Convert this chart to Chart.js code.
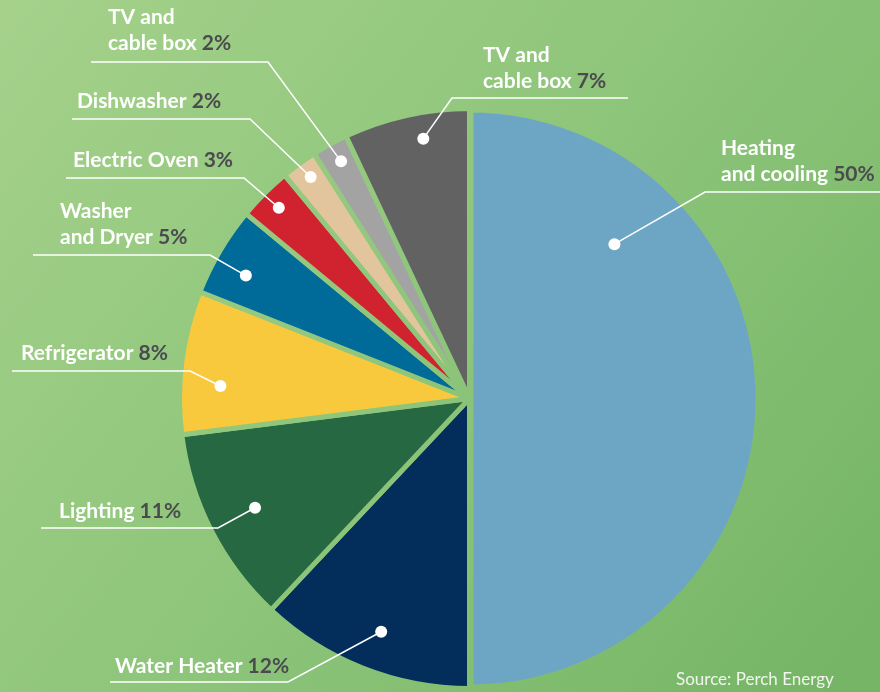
<!DOCTYPE html>
<html>
<head>
<meta charset="utf-8">
<script src="https://cdn.jsdelivr.net/npm/chart.js@4/dist/chart.umd.min.js"></script>
<style>
  html, body { margin: 0; padding: 0; background: #8dc57a; }
  canvas { display: block; }
</style>
</head>
<body>
<canvas id="c" width="880" height="692"></canvas>
<script>
// ---- data ----
const categories = ["Heating and cooling", "Water Heater", "Lighting", "Refrigerator", "Washer and Dryer", "Electric Oven", "Dishwasher", "TV and cable box", "TV and cable box"];
const values = [50, 12, 11, 8, 5, 3, 2, 2, 7];
const sliceColors = ["#6da6c4", "#032e5b", "#256842", "#f8c93d", "#006a99", "#d1232f", "#e2c59d", "#a3a3a3", "#626262"];
const sourceText = "Source: Perch Energy";

// ---- label layout (positions/styles only) ----
const labelLines = [
  ["Heating", "and cooling"],
  ["Water Heater"],
  ["Lighting"],
  ["Refrigerator"],
  ["Washer", "and Dryer"],
  ["Electric Oven"],
  ["Dishwasher"],
  ["TV and", "cable box"],
  ["TV and", "cable box"]
];
// x: text left, y: baseline of last line, ux1/ux2: underline from/to (elbow at ux2), uy: underline y, af/rf: dot angle & radius fraction
const labelLayout = [
  { x: 721, y: 181, ux1: 880, ux2: 705, uy: 192, af: 0.24, rf: 0.73 },
  { x: 115, y: 673, ux1: 110, ux2: 288, uy: 682, af: 0.48, rf: 0.86 },
  { x: 59,  y: 518, ux1: 41,  ux2: 218, uy: 528, af: 0.5,  rf: 0.83 },
  { x: 21,  y: 360, ux1: 12,  ux2: 190, uy: 371, af: 0.35, rf: 0.86 },
  { x: 60,  y: 244, ux1: 33,  ux2: 210, uy: 255, af: 0.4,  rf: 0.88 },
  { x: 73,  y: 167, ux1: 66,  ux2: 244, uy: 178, af: 0.5,  rf: 0.93 },
  { x: 77,  y: 108, ux1: 72,  ux2: 250, uy: 119, af: 0.55, rf: 0.94 },
  { x: 108, y: 50,  ux1: 91,  ux2: 268, uy: 62,  af: 0.55, rf: 0.93 },
  { x: 483, y: 88,  ux1: 628, ux2: 452, uy: 98,  af: 0.6,  rf: 0.91 }
];
const sliceBorders = [8, 5, 5, 5, 5, 5, 5, 5, 5];

const FONT = "Lato, 'Open Sans', sans-serif";

const canvas = document.getElementById('c');
const gctx = canvas.getContext('2d');
function makeBg() {
  const g = gctx.createLinearGradient(0, 0, 880, 692);
  g.addColorStop(0, '#a5d18b');
  g.addColorStop(0.5, '#8dc57a');
  g.addColorStop(1, '#74b464');
  return g;
}
const bgGrad = makeBg();

const bgPlugin = {
  id: 'bg',
  beforeDraw(chart) {
    const ctx = chart.ctx;
    ctx.save();
    ctx.fillStyle = bgGrad;
    ctx.fillRect(0, 0, chart.width, chart.height);
    ctx.restore();
  }
};

const labelPlugin = {
  id: 'labels',
  afterDatasetsDraw(chart) {
    const ctx = chart.ctx;
    const meta = chart.getDatasetMeta(0);
    ctx.save();
    meta.data.forEach((arc, i) => {
      const L = labelLayout[i];
      const a = arc.startAngle + L.af * (arc.endAngle - arc.startAngle);
      const r = L.rf * arc.outerRadius;
      const dx = arc.x + Math.cos(a) * r;
      const dy = arc.y + Math.sin(a) * r;

      ctx.strokeStyle = '#ffffff';
      ctx.lineWidth = 1.5;
      ctx.beginPath();
      ctx.moveTo(L.ux1, L.uy);
      ctx.lineTo(L.ux2, L.uy);
      ctx.lineTo(dx, dy);
      ctx.stroke();
      ctx.fillStyle = '#ffffff';
      ctx.beginPath();
      ctx.arc(dx, dy, 6, 0, Math.PI * 2);
      ctx.fill();

      ctx.font = "700 21px " + FONT;
      ctx.textBaseline = 'alphabetic';
      ctx.textAlign = 'left';
      const lines = labelLines[i];
      const lh = 26;
      lines.forEach((t, k) => {
        const y = L.y - (lines.length - 1 - k) * lh;
        ctx.fillStyle = '#ffffff';
        if (k === lines.length - 1) {
          const s = t + ' ';
          ctx.fillText(s, L.x, y);
          const w = ctx.measureText(s).width;
          ctx.fillStyle = '#4b4b4f';
          ctx.fillText(values[i] + '%', L.x + w, y);
        } else {
          ctx.fillText(t, L.x, y);
        }
      });
    });
    ctx.font = "400 17px " + FONT;
    ctx.fillStyle = '#f2f5ef';
    ctx.fillText(sourceText, 676, 685);
    ctx.restore();
  }
};

new Chart(canvas, {
  type: 'pie',
  data: {
    labels: categories,
    datasets: [{
      data: values,
      backgroundColor: sliceColors,
      borderColor: bgGrad,
      borderWidth: sliceBorders,
      radius: 290
    }]
  },
  options: {
    responsive: false,
    animation: false,
    layout: { padding: { left: 59, top: 105, right: 0, bottom: 0 } },
    plugins: { legend: { display: false }, tooltip: { enabled: false } }
  },
  plugins: [bgPlugin, labelPlugin]
});
</script>
</body>
</html>
